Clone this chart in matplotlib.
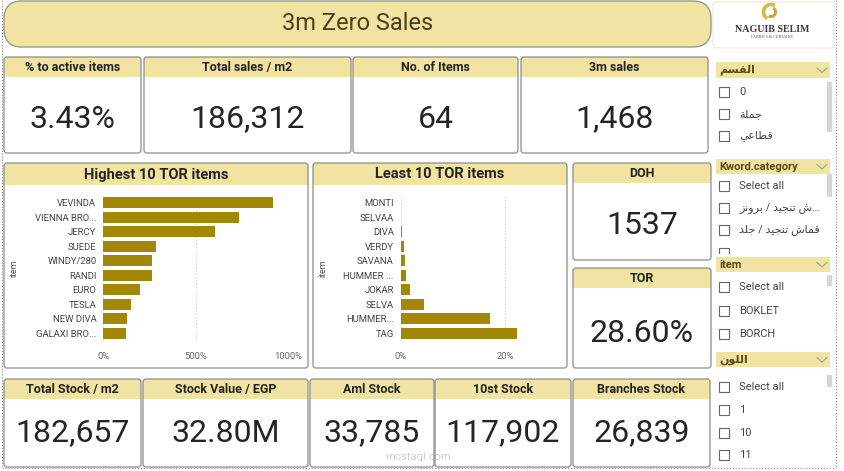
import matplotlib
matplotlib.use('Agg')
import matplotlib.pyplot as plt
from matplotlib.patches import FancyBboxPatch, Rectangle, Arc

plt.rcParams['font.family'] = ['Roboto', 'DejaVu Sans']

# ---- data ----
page_title = '3m Zero Sales'
top_titles = ['% to active items', 'Total sales / m2', 'No. of Items', '3m sales']
top_values = ['3.43%', '186,312', '64', '1,468']
bot_titles = ['Total Stock / m2', 'Stock Value / EGP', 'Aml Stock', '10st Stock', 'Branches Stock']
bot_values = ['182,657', '32.80M', '33,785', '117,902', '26,839']
side_titles = ['DOH', 'TOR']
side_values = ['1537', '28.60%']

high_items = ['VEVINDA', 'VIENNA BRO...', 'JERCY', 'SUEDE', 'WINDY/280', 'RANDI', 'EURO', 'TESLA',
              'NEW DIVA', 'GALAXI BRO...']
high_tor = [915, 735, 604, 285, 265, 263, 198, 150, 126, 121]
low_items = ['MONTI', 'SELVAA', 'DIVA', 'VERDY', 'SAVANA', 'HUMMER ...', 'JOKAR', 'SELVA', 'HUMMER...', 'TAG']
low_tor = [0, 0, 0.26, 0.64, 0.83, 0.96, 1.7, 4.4, 17.1, 22.3]

slicer_titles = ['القسم', 'Kword.category', 'item', 'اللون']
slicer_items = [['0', 'جملة', 'قطاعي'],
                ['Select all', '…ش تنجيد / برونز', 'قماش تنجيد / جلد'],
                ['Select all', 'BOKLET', 'BORCH'],
                ['Select all', '1', '10', '11']]

YELLOW = '#F1E3A1'
BAR = '#A38807'
BORDER = '#8c8c8c'
DARK = '#252423'

# minimal arabic shaping (matplotlib draws glyphs without joining / rtl)
AR_FORMS = {
    'ا': (0xFE8D, 0xFE8E, None, None), 'ب': (0xFE8F, 0xFE90, 0xFE91, 0xFE92),
    'ة': (0xFE93, 0xFE94, None, None), 'ت': (0xFE95, 0xFE96, 0xFE97, 0xFE98),
    'ج': (0xFE9D, 0xFE9E, 0xFE9F, 0xFEA0), 'د': (0xFEA9, 0xFEAA, None, None),
    'ر': (0xFEAD, 0xFEAE, None, None), 'ز': (0xFEAF, 0xFEB0, None, None),
    'س': (0xFEB1, 0xFEB2, 0xFEB3, 0xFEB4), 'ش': (0xFEB5, 0xFEB6, 0xFEB7, 0xFEB8),
    'ط': (0xFEC1, 0xFEC2, 0xFEC3, 0xFEC4), 'ع': (0xFEC9, 0xFECA, 0xFECB, 0xFECC),
    'ق': (0xFED5, 0xFED6, 0xFED7, 0xFED8), 'ل': (0xFEDD, 0xFEDE, 0xFEDF, 0xFEE0),
    'م': (0xFEE1, 0xFEE2, 0xFEE3, 0xFEE4), 'ن': (0xFEE5, 0xFEE6, 0xFEE7, 0xFEE8),
    'و': (0xFEED, 0xFEEE, None, None), 'ي': (0xFEF1, 0xFEF2, 0xFEF3, 0xFEF4),
}


def shape_ar(s):
    if not any(c in AR_FORMS for c in s):
        return s
    out = []
    for i, c in enumerate(s):
        f = AR_FORMS.get(c)
        if f is None:
            out.append(c)
            continue
        prev = s[i - 1] if i > 0 else ''
        nxt = s[i + 1] if i + 1 < len(s) else ''
        jp = prev in AR_FORMS and AR_FORMS[prev][2] is not None
        jn = nxt in AR_FORMS and f[2] is not None
        k = 3 if (jp and jn) else 1 if jp else 2 if jn else 0
        out.append(chr(f[k]))
    return ''.join(out[::-1])


W, H = 845, 471
fig = plt.figure(figsize=(8.45, 4.71), dpi=100)
fig.patch.set_facecolor('white')
ax = fig.add_axes([0, 0, 1, 1])
ax.set_xlim(0, W)
ax.set_ylim(H, 0)
ax.axis('off')


def card(x0, y0, x1, y1, title, hh=20, tsize=9):
    w, h = x1 - x0, y1 - y0
    ax.add_patch(FancyBboxPatch((x0, y0), w, h, boxstyle='round,pad=0,rounding_size=3',
                                fc='white', ec='none'))
    ax.add_patch(FancyBboxPatch((x0, y0), w, hh, boxstyle='round,pad=0,rounding_size=3',
                                fc=YELLOW, ec='none'))
    ax.add_patch(Rectangle((x0, y0 + hh / 2), w, hh / 2, fc=YELLOW, ec='none'))
    ax.add_patch(FancyBboxPatch((x0, y0), w, h, boxstyle='round,pad=0,rounding_size=3',
                                fc='none', ec=BORDER, lw=0.9))
    ax.text((x0 + x1) / 2, y0 + hh / 2 + 0.5, title, ha='center', va='center',
            fontsize=tsize, fontweight='bold', color=DARK)


def value(x0, x1, y, txt):
    ax.text((x0 + x1) / 2, y, txt, ha='center', va='center', fontsize=23, color=DARK)


# title banner
ax.add_patch(FancyBboxPatch((4, 1), 707, 46, boxstyle='round,pad=0,rounding_size=18',
                            fc=YELLOW, ec='#9a9a90', lw=1))
ax.text(358, 23, page_title, ha='center', va='center', fontsize=17, color='#4a4020')

# logo
ax.add_patch(FancyBboxPatch((713, 2), 121, 46, boxstyle='round,pad=0,rounding_size=3',
                            fc='white', ec='#efe9d6', lw=0.8))
ax.add_patch(Arc((771, 12), 15, 15, theta1=120, theta2=300, color='#d8b652', lw=2.6))
ax.add_patch(Arc((771, 12), 9, 9, theta1=300, theta2=480, color='#c9a53c', lw=2.2))
ax.text(772, 30, 'NAGUIB SELIM', ha='center', va='center', fontsize=7.2, fontweight='bold',
        family='Liberation Serif', color='#3a3a3a')
ax.text(772, 37.5, 'FABRICS & CURTAINS', ha='center', va='center', fontsize=3,
        family='Liberation Serif', color='#555555')

# top KPI cards
top_x = [(4, 141), (144, 351), (353, 518), (521, 708)]
for (x0, x1), t, v in zip(top_x, top_titles, top_values):
    card(x0, 57, x1, 153, t)
    value(x0, x1, 119, v)

# DOH / TOR
card(573, 163, 711, 260, side_titles[0])
value(573, 711, 225, side_values[0])
card(573, 268, 711, 368, side_titles[1])
value(573, 711, 334, side_values[1])

# bottom KPI cards
bot_x = [(4, 141), (143, 308), (310, 434), (435, 571), (573, 710)]
for (x0, x1), t, v in zip(bot_x, bot_titles, bot_values):
    card(x0, 379, x1, 467, t)
    value(x0, x1, 433, v)

# bar chart cards
card(4, 163, 308, 368, 'Highest 10 TOR items', hh=22, tsize=10.5)
card(313, 163, 567, 368, 'Least 10 TOR items', hh=22, tsize=10.5)
ax.text(14, 268, 'item', rotation=90, ha='center', va='center', fontsize=6.5, color='#555555')
ax.text(323, 268, 'item', rotation=90, ha='center', va='center', fontsize=6.5, color='#555555')


def px_axes(x0, y0, x1, y1):
    return fig.add_axes([x0 / W, 1 - y1 / H, (x1 - x0) / W, (y1 - y0) / H])


def bar_panel(x0, x1, items, vals, xmax, ticks):
    bx = px_axes(x0, 195.4, x1, 340.6)
    bx.patch.set_alpha(0)
    pos = range(len(items))
    bx.barh(pos, vals, height=0.74, color=BAR)
    bx.set_ylim(len(items) - 0.5, -0.5)
    bx.set_xlim(0, xmax)
    bx.set_yticks(list(pos))
    bx.set_yticklabels(items)
    bx.set_xticks(ticks)
    bx.set_xticklabels(['{:g}%'.format(t) for t in ticks])
    bx.tick_params(axis='y', length=0, pad=5, labelsize=6.8, labelcolor='#444444')
    bx.tick_params(axis='x', length=0, pad=8, labelsize=6.8, labelcolor='#666666')
    bx.xaxis.grid(True, linestyle=(0, (1, 2)), color='#c8c8c8', lw=0.8)
    bx.set_axisbelow(True)
    for s in bx.spines.values():
        s.set_visible(False)


bar_panel(103.3, 288.3, high_items, high_tor, 1000, [0, 500, 1000])
bar_panel(400.7, 540, low_items, low_tor, 26.7, [0, 20])

# slicers
slicer_head = [(62, 78), (159, 174), (257, 272), (352, 367)]
slicer_rows = [[92, 114, 136], [186, 208, 230], [287, 311, 334], [387, 410, 433, 455]]
slicer_scroll = [(82, 132), (174, 197), (275, 286), (375, 387)]
for t, (h0, h1), rows, items, (s0, s1) in zip(slicer_titles, slicer_head, slicer_rows,
                                              slicer_items, slicer_scroll):
    ax.add_patch(Rectangle((716, h0), 114, h1 - h0, fc=YELLOW, ec='none'))
    ax.text(719, (h0 + h1) / 2, shape_ar(t), ha='left', va='center', fontsize=8,
            fontweight='bold', color='#5c4a12')
    ax.plot([817, 822, 827], [(h0 + h1) / 2 - 2, (h0 + h1) / 2 + 2.5, (h0 + h1) / 2 - 2],
            color='#a0a0a0', lw=0.8)
    ax.add_patch(Rectangle((827, s0), 5, s1 - s0, fc='#d6d6d6', ec='none'))
    for y, it in zip(rows, items):
        ax.add_patch(Rectangle((719.5, y - 5), 10, 10, fc='white', ec='#666666', lw=0.8))
        ax.text(739, y, shape_ar(it), ha='left', va='center', fontsize=8, color='#444444')
# clipped 4th row of the category slicer
ax.add_patch(Rectangle((719.5, 248), 10, 6, fc='white', ec='#666666', lw=0.8))
ax.add_patch(Rectangle((716, 253.5), 118, 3, fc='white', ec='none'))

# watermark
ax.text(418, 457, 'mostaql.com', ha='center', va='center', fontsize=8, color='#b0b0b0', alpha=0.6)

# dotted canvas edges
ax.plot([2, 2], [0, 467.5], ls=':', color='#888888', lw=0.8)
ax.plot([836, 836], [0, 467.5], ls=':', color='#888888', lw=0.8)
ax.plot([2, 836], [467.5, 467.5], ls=':', color='#888888', lw=0.8)

fig.savefig('out.png', dpi=100)
